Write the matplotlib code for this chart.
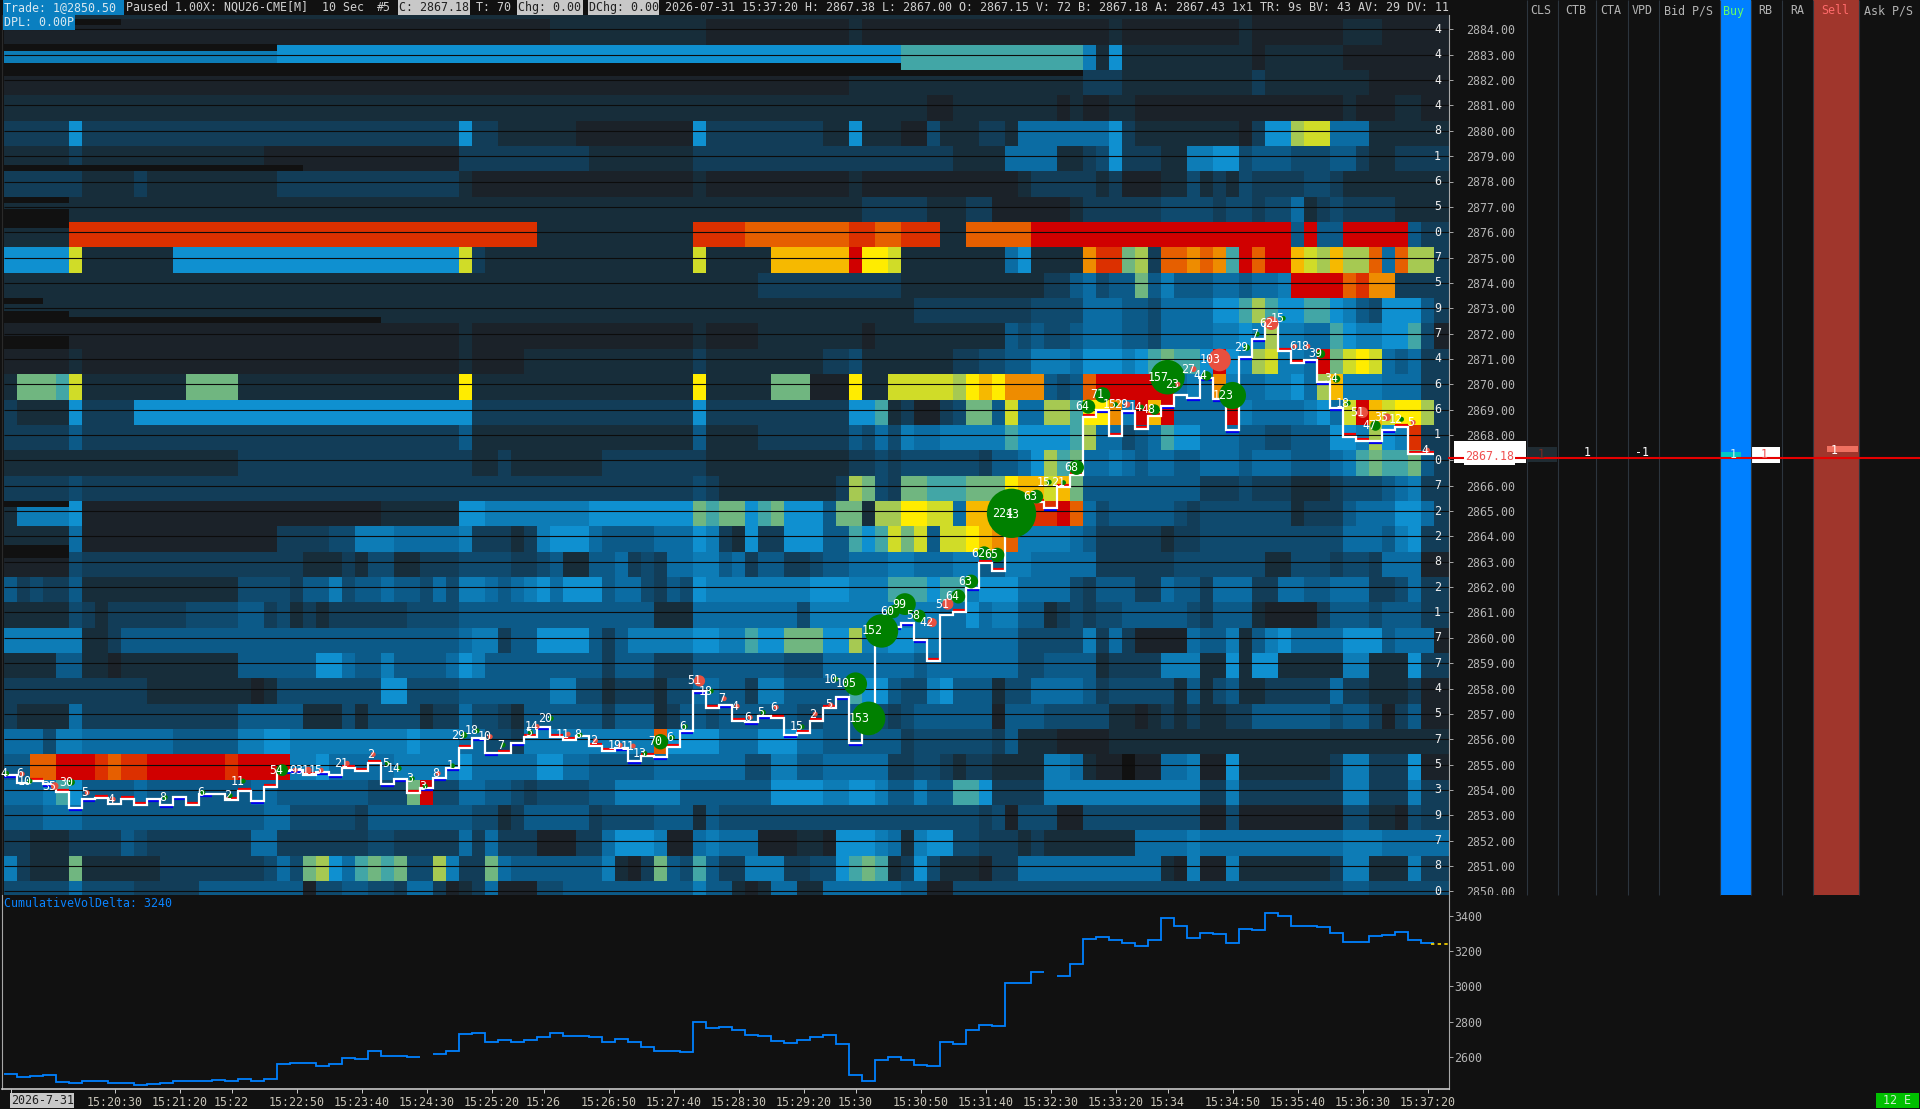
import numpy as np
import matplotlib
matplotlib.use("Agg")
import matplotlib.pyplot as plt
from matplotlib.colors import ListedColormap

plt.rcParams['font.family'] = ['DejaVu Sans Mono']
plt.rcParams['font.size'] = 8.4

BG = '#111111'

# heat levels, from empty up through blue and green to red
level_keys = '012345678abcdefghij'
level_colors = ['#111111', '#1b2229', '#172d3a', '#123d58', '#0f4a6e', '#0c5a88', '#0b6ca3', '#0d7cb6', '#0f90d0',
                '#42a6a6', '#70b680', '#a6c952', '#d0dc28', '#ffec00', '#f6b900', '#ee8c00', '#e65f00', '#dc3000', '#d00000']

# each row: "first column:level" runs
r2885 = "0:2 96:1"
r2884 = "0:1 42:2 54:1 65:2 66:1 85:2 86:1 95:2 96:1 103:2 106:1"
r2883 = "0:7 21:8 69:a 83:7 84:2 85:8 86:2 96:1 97:2 103:1"
r2882 = "0:1 65:2 83:3 86:2 96:3 97:2 105:1"
r2881 = "0:2 71:1 73:2 81:1 82:2 83:1 85:2 87:1 103:2 104:1 107:2 109:1"
r2880 = "0:3 5:8 6:3 35:8 36:3 38:2 44:1 53:8 54:3 63:2 65:8 66:2 69:1 71:4 72:2 75:3 77:2 78:6 85:8 86:3 87:2 95:1 96:3 97:8 99:c 100:d 102:6 105:2"
r2879 = "0:2 5:3 6:2 20:1 35:3 45:2 53:3 73:2 77:6 81:2 83:3 84:4 85:8 86:3 89:2 91:7 93:8 95:4 96:5 99:4 102:5 104:3 105:2 107:3"
r2878 = "0:3 6:2 10:3 11:2 21:3 35:2 36:1 53:2 54:1 65:2 66:1 78:2 79:3 84:2 85:3 86:1 89:2 91:4 92:2 93:3 94:2 95:4 96:3 100:4 102:3 103:2"
r2877 = "0:2 66:3 71:2 74:3 76:1 82:2 83:3 89:4 93:3 94:4 96:3 97:4 99:6 100:2 101:3 102:4 103:3 107:2"
r2876 = "0:2 5:i 41:2 53:i 57:h 65:i 67:h 69:i 72:2 74:h 79:j 99:5 100:j 101:5 103:j 108:5 109:3"
r2875 = "0:8 5:d 6:2 13:8 35:d 36:3 37:2 53:d 54:2 59:f 65:j 66:e 68:d 69:2 77:6 78:8 79:2 83:g 84:i 86:b 87:c 88:3 89:h 91:g 92:h 93:g 94:a 95:j 96:h 97:j 99:f 100:d 101:c 102:f 103:c 105:h 106:6 107:h 108:c 110:3"
r2874 = "0:2 58:3 69:2 80:3 82:5 83:6 84:4 85:5 87:b 88:5 89:7 90:5 93:6 95:5 96:6 98:7 99:j 103:h 104:i 105:g 107:3"
r2873 = "0:2 70:3 79:4 83:6 86:5 88:4 89:6 93:8 95:a 96:c 97:a 98:8 100:a 102:8 103:7 104:5 105:4 106:8 109:5 110:3"
r2872 = "0:1 35:2 36:1 53:2 54:1 58:2 66:1 67:2 77:5 78:4 79:5 80:4 82:5 83:6 86:5 88:4 89:6 93:7 95:8 96:7 97:c 98:7 100:6 102:a 103:8 104:7 106:8 108:a 109:4 110:1"
r2871 = "0:1 5:2 6:1 35:2 36:1 40:2 53:3 54:2 63:3 65:4 66:2 73:3 75:4 77:5 79:7 82:6 83:8 86:7 87:8 88:a 89:b 90:a 92:8 93:j 94:8 95:7 96:c 97:d 98:7 100:6 101:j 102:b 103:d 104:e 105:d 106:6 107:5 108:6 109:3"
r2870 = "0:2 1:b 4:a 5:d 6:2 14:b 18:2 35:e 36:2 53:e 54:2 59:b 62:1 65:e 66:2 68:d 73:c 74:e 75:f 76:e 77:g 80:5 81:4 82:5 83:h 84:j 90:6 91:7 92:6 93:g 94:7 95:6 97:7 99:8 100:6 101:c 102:f 103:7 106:6 109:3"
r2869 = "0:3 1:2 5:8 6:3 10:8 36:3 53:8 54:3 65:8 67:a 68:2 69:3 70:1 72:3 73:4 74:b 76:5 77:d 78:6 80:c 82:a 83:e 85:g 86:7 87:j 88:f 89:j 90:6 94:j 95:7 96:6 100:7 101:8 102:6 103:d 104:j 105:f 106:d 107:e 109:c 110:3"
r2868 = "0:3 5:5 6:3 35:5 36:2 53:5 54:2 58:3 65:5 66:4 67:6 68:4 69:7 70:6 72:7 77:a 78:8 82:a 83:c 84:6 86:4 87:5 88:6 89:a 90:8 92:6 95:5 97:4 99:5 102:8 104:7 105:c 106:8 107:7 108:i 109:3"
r2867 = "0:2 18:3 36:2 38:3 39:2 46:3 54:2 65:3 67:4 68:3 69:4 75:3 76:5 78:6 79:8 80:c 81:a 82:b 83:6 85:7 86:6 87:5 88:6 90:5 92:6 95:5 96:6 99:5 102:6 103:7 104:a 105:b 106:a 108:b 109:5 110:3"
r2866 = "0:3 5:4 6:3 53:4 54:3 55:2 64:3 65:c 66:b 67:4 68:3 69:b 71:a 74:b 77:e 78:f 80:d 81:f 82:b 83:5 92:3 95:4 96:3 99:2 102:3 103:4 106:5 107:6 108:7 109:3"
r2865 = "0:2 1:7 5:8 6:1 29:2 35:8 37:7 45:8 53:b 54:a 55:b 57:8 58:a 59:b 60:8 63:5 64:b 66:2 67:c 69:e 71:d 73:6 74:f 76:h 79:i 81:j 82:h 83:6 84:4 85:5 90:4 91:3 92:4 99:2 100:3 103:5 104:6 107:8 109:6 110:3"
r2864 = "0:2 5:6 6:1 21:3 25:4 27:7 30:6 35:7 36:3 39:2 40:3 41:7 42:8 45:6 46:5 50:6 53:8 54:7 55:3 56:2 57:8 58:3 60:8 63:5 65:a 66:8 67:a 68:d 69:b 70:d 71:5 72:d 74:e 75:f 76:g 77:h 78:7 82:6 83:5 84:3 89:2 90:3 92:4 103:6 106:5 107:7 108:8 109:3"
r2863 = "0:1 5:4 6:3 23:2 26:3 27:2 28:4 30:2 32:3 35:4 39:3 41:4 42:5 43:2 45:5 47:6 48:3 49:4 50:3 51:6 53:7 55:5 56:6 57:3 58:5 60:3 62:4 63:5 65:6 68:7 70:6 73:7 75:5 77:7 79:6 84:3 90:4 97:2 99:4 102:3 103:4 105:3 106:6 109:1"
r2862 = "0:5 1:3 2:4 3:3 5:5 6:2 18:4 22:3 23:5 25:7 26:4 27:5 29:6 30:5 32:4 33:6 34:4 35:7 37:6 38:5 39:6 40:7 41:8 42:6 43:8 46:5 47:6 49:4 50:3 51:5 52:4 53:8 54:7 62:8 65:7 68:a 71:8 72:a 74:7 75:8 78:6 82:4 83:3 84:5 87:3 89:6 90:5 92:3 93:6 96:3 98:6 100:5 102:6 105:3 107:4 108:6 109:3"
r2861 = "0:2 5:4 6:3 7:2 8:3 14:4 18:5 20:3 21:4 22:2 23:3 24:2 25:3 31:4 35:5 50:2 53:6 61:4 62:7 72:6 74:8 75:6 76:7 78:5 80:2 81:3 82:4 83:3 84:4 86:5 91:4 92:3 93:5 96:2 97:1 101:3 102:5 105:4 106:5 109:3"
r2860 = "0:7 6:2 8:3 9:5 35:6 36:7 38:3 39:5 41:8 45:5 46:3 47:5 48:7 53:8 55:7 57:a 58:8 60:b 63:8 65:c 66:7 68:8 70:7 72:6 78:4 83:7 84:3 85:6 86:3 87:1 91:6 92:5 94:7 95:2 96:5 97:7 98:8 99:6 103:8 106:5 107:6 110:1"
r2859 = "0:2 4:5 6:2 8:1 9:2 18:5 24:8 26:6 27:5 29:7 30:5 34:6 35:8 36:7 37:5 46:3 47:5 50:3 53:5 60:4 63:6 70:5 71:6 78:4 80:5 84:2 85:3 89:7 92:2 94:8 95:2 96:8 98:2 103:7 105:2 108:8 109:3"
r2858 = "0:3 11:2 19:1 20:2 21:4 29:8 31:4 35:5 42:7 44:4 46:2 47:3 50:2 51:4 53:6 55:5 57:3 58:7 60:5 65:a 66:8 68:5 69:4 71:7 72:8 73:5 76:2 77:4 79:6 83:5 84:3 85:4 90:2 91:5 92:2 93:4 94:5 95:2 97:3 102:6 103:3 105:2 108:3 109:1"
r2857 = "0:3 1:2 5:6 6:3 18:5 23:2 26:4 27:2 28:4 32:2 33:3 35:6 36:4 38:3 39:2 40:5 46:3 47:5 50:2 51:3 52:5 54:4 55:5 61:4 63:5 66:4 68:3 69:4 70:5 76:1 77:5 80:4 85:2 87:1 88:2 89:3 90:2 91:3 92:2 94:3 96:5 102:4 103:5 105:3 106:1 107:3 108:5 109:1"
r2856 = "0:6 3:4 4:7 6:6 13:5 18:7 20:8 22:7 31:8 32:7 35:6 37:4 39:3 40:7 50:h 51:8 55:6 58:8 61:6 63:5 69:3 70:4 76:3 77:5 78:2 81:1 85:2"
r2855 = "0:5 2:h 4:j 7:i 8:h 9:i 11:j 17:i 18:j 22:7 24:8 25:6 30:7 35:8 36:6 41:8 43:6 45:5 50:6 57:4 59:7 61:5 63:6 68:3 70:4 72:3 73:2 74:3 76:2 80:7 82:6 83:2 84:1 86:0 87:1 89:6 91:7 92:1 94:8 95:2 102:3 103:7 105:3 108:8 109:1"
r2854 = "0:6 3:7 4:a 5:8 6:5 10:6 11:5 19:6 21:5 28:4 31:b 32:j 33:4 35:6 37:5 39:4 40:3 41:4 45:5 47:7 52:5 59:8 63:7 65:8 67:7 68:5 70:7 71:5 73:a 75:8 76:3 80:7 92:3 94:7 95:3 103:7 105:3 108:7 109:3"
r2853 = "0:5 3:6 6:5 20:6 22:4 27:3 28:5 36:4 38:2 39:3 40:5 45:3 46:4 50:5 53:2 54:5 55:4 75:3 76:4 77:1 78:4 81:1 83:4 92:1 94:4 95:1 103:4 105:2 107:1 108:4 109:3"
r2852 = "0:3 2:2 5:3 9:5 10:4 11:3 19:6 21:3 28:4 30:3 35:6 36:3 37:6 38:3 41:1 44:3 46:6 47:8 50:7 51:1 53:6 54:7 55:6 58:1 61:2 63:1 64:8 67:7 68:6 69:2 70:7 71:8 73:4 75:3 78:2 79:3 80:2 87:6 91:7 92:6 103:7 106:6"
r2851 = "0:7 1:3 2:2 5:b 6:2 12:3 20:4 21:6 22:4 23:b 24:c 25:8 26:6 27:a 28:b 29:a 30:b 31:4 33:c 34:7 35:3 37:b 38:6 39:5 46:7 47:2 48:1 49:3 50:b 51:5 52:4 53:a 54:5 55:3 57:7 60:3 62:4 64:8 65:a 66:b 67:a 68:2 69:3 70:8 71:4 72:2 75:1 76:3 78:6 89:2 90:1 91:7 92:1 94:7 95:2 102:3 103:7 105:2 108:7 109:3"
r2850 = "0:4 5:6 6:4 10:3 15:5 23:1 24:4 26:5 28:4 30:3 31:6 33:3 34:1 35:2 36:3 37:6 38:1 41:4 43:5 53:7 54:5 56:2 57:1 58:2 59:6 61:2 63:6 69:5 71:1 73:4 103:5 105:4"

heat_rows = [r2850, r2851, r2852, r2853, r2854, r2855, r2856, r2857, r2858, r2859, r2860, r2861,
             r2862, r2863, r2864, r2865, r2866, r2867, r2868, r2869, r2870, r2871, r2872, r2873,
             r2874, r2875, r2876, r2877, r2878, r2879, r2880, r2881, r2882, r2883, r2884, r2885]

# no-data slivers: first col, last col, upper price, lower price
gap_spans = [(0, 9, 2884.41, 2884.17), (0, 21, 2883.42, 2883.15), (0, 69, 2882.67, 2882.16),
             (69, 83, 2882.40, 2882.16), (0, 23, 2878.65, 2878.41), (0, 5, 2877.39, 2877.15),
             (0, 5, 2876.90, 2876.17), (0, 3, 2873.40, 2873.17), (0, 5, 2872.89, 2872.41),
             (5, 29, 2872.65, 2872.41), (0, 5, 2871.90, 2871.39), (0, 5, 2865.40, 2865.16),
             (0, 5, 2863.66, 2863.15)]

# last digit printed on each price row, 2884 downwards
row_digits = "44448165075974661072282177457539780"

close_prices = [2854.59, 2854.27, 2854.35, 2854.23, 2853.93, 2853.27, 2853.63, 2853.68, 2853.44, 2853.63,
                2853.40, 2853.63, 2853.40, 2853.73, 2853.40, 2853.84, 2853.84, 2853.60, 2853.97, 2853.56,
                2854.13, 2854.76, 2854.78, 2854.59, 2854.72, 2854.59, 2854.88, 2854.74, 2855.05, 2854.22,
                2854.42, 2853.89, 2854.06, 2854.48, 2854.88, 2855.64, 2856.06, 2855.47, 2855.47, 2855.84,
                2856.07, 2856.49, 2856.10, 2855.97, 2856.13, 2855.74, 2855.55, 2855.64, 2855.14, 2855.33,
                2855.28, 2855.68, 2856.32, 2857.91, 2857.22, 2857.35, 2856.73, 2856.69, 2856.91, 2856.82,
                2856.16, 2856.26, 2856.73, 2857.22, 2857.65, 2855.84, 2856.27, 2859.94, 2860.44, 2860.60,
                2859.91, 2859.08, 2860.90, 2861.03, 2861.98, 2862.94, 2862.64, 2864.49, 2864.85, 2865.37,
                2865.11, 2865.93, 2866.43, 2868.70, 2868.99, 2867.97, 2868.93, 2868.24, 2868.75, 2869.15,
                2869.58, 2869.45, 2870.24, 2869.41, 2868.20, 2871.07, 2871.78, 2872.38, 2871.33, 2870.83,
                2870.96, 2870.11, 2869.06, 2867.94, 2867.78, 2867.78, 2868.18, 2868.31, 2867.26, 2867.26]

# which side the bar close tick sits on
close_sides = ("bnrbrbbrnr" "rbbbrbnrrb" "rbbrbbrrrb" "brbbbrbbrb" "rbrrnrrbbr"
               "brbbrbrbbr" "brrrbbrbbb" "brnrbrrrbr" "brrrbrbrrb" "nbbbbbbrrr" "bbbrrbbrrr")

# large trades, columns here counted from the left edge of column 0
bubble_cols = [77.5, 78.0, 89.5, 94.5, 93.5, 84.5, 83.4, 82.5, 75.4, 76.4, 74.4, 73.4, 69.3, 79.4, 80.4, 81.5,
               85.5, 86.4, 87.5, 88.5, 91.5, 90.3, 92.5, 95.6, 96.4, 97.5, 98.4, 99.3, 100.3, 101.3, 102.5, 103.4,
               104.5, 105.5, 106.4, 107.5, 108.4, 109.5, 67.5, 66.5, 65.5, 64.0, 68.4, 70.4, 71.4, 72.6, 56.4, 59.4,
               55.4, 57.4, 58.4, 61.4, 62.4, 63.6, 53.5, 54.4, 50.5, 52.4, 51.4, 49.3, 48.4, 47.4, 45.5, 42.1,
               41.0, 40.5, 43.4, 44.3, 35.4, 36.4, 37.4, 38.4, 28.4, 26.4, 29.5, 30.4, 31.4, 32.4, 33.4, 34.5,
               21.4, 22.4, 23.4, 24.4, 0.2, 1.4, 2.0, 3.9, 5.2, 6.4, 8.4, 12.4, 15.3, 17.4, 18.4]
bubble_prices = [2864.91, 2864.85, 2870.28, 2869.56, 2870.96, 2869.58, 2869.12, 2866.72, 2863.34, 2863.27, 2862.22,
                 2861.63, 2861.33, 2865.57, 2866.14, 2866.12, 2869.20, 2869.20, 2869.10, 2869.00, 2870.60, 2870.00,
                 2870.33, 2871.45, 2871.98, 2872.41, 2872.60, 2871.50, 2871.50, 2871.20, 2870.21, 2869.25, 2868.89,
                 2868.37, 2868.70, 2868.62, 2868.50, 2867.40, 2860.27, 2856.82, 2858.18, 2858.37, 2861.03, 2860.86,
                 2860.60, 2861.33, 2857.30, 2857.26, 2857.60, 2856.86, 2857.06, 2856.49, 2856.99, 2857.35, 2858.30,
                 2857.90, 2855.90, 2856.50, 2856.07, 2855.44, 2855.73, 2855.76, 2855.94, 2856.82, 2856.50, 2856.27,
                 2856.20, 2856.17, 2856.16, 2856.33, 2856.10, 2855.77, 2855.40, 2855.05, 2855.05, 2854.85, 2854.45,
                 2854.15, 2854.65, 2854.95, 2854.78, 2854.78, 2854.78, 2854.78, 2854.65, 2854.63, 2854.35, 2854.15,
                 2854.30, 2853.89, 2853.63, 2853.70, 2853.90, 2853.77, 2854.35]
bubble_vols = [224, 13, 157, 123, 103, 71, 64, 68, 62, 65, 63, 64, 99, 63, 15, 21,
               15, 29, 14, 48, 27, 23, 44, 29, 7, 62, 15, 6, 18, 39, 34, 18,
               51, 47, 35, 12, 5, 4, 152, 153, 105, 10, 60, 58, 42, 51, 4, 6,
               7, 6, 5, 15, 2, 5, 51, 18, 70, 6, 6, 13, 11, 19, 2, 20,
               14, 5, 11, 8, 29, 18, 10, 7, 2, 21, 5, 14, 3, 3, 8, 1,
               54, 9, 31, 15, 4, 6, 10, 35, 30, 5, 4, 8, 6, 2, 11]
# g buyer, s seller
bubble_sides = ("gggg" "sggggggggggg" "gsgg" "ssgg" "gsgss" "ggg" "sgsg" "ssggg" "gggss" "ssssg" "gs"
                "ssgggggsssgsgsgggsgssggggsg" "gsssgsgsgssgggg")

cvd_values = [2501, 2484, 2490, 2496, 2456, 2450, 2462, 2462, 2450, 2450, 2439, 2445, 2450, 2462, 2462, 2462,
              2467, 2462, 2473, 2462, 2473, 2558, 2564, 2564, 2547, 2558, 2592, 2586, 2632, 2603, 2603, 2598,
              np.nan, 2617, 2632, 2728, 2734, 2683, 2694, 2683, 2694, 2711, 2734, 2717, 2717, 2711, 2683, 2700,
              2683, 2655, 2632, 2632, 2626, 2796, 2762, 2768, 2751, 2723, 2717, 2689, 2677, 2694, 2711, 2723,
              2672, 2496, 2462, 2581, 2598, 2581, 2552, 2547, 2683, 2672, 2751, 2779, 2774, 3022, 3018, 3080,
              np.nan, 3058, 3126, 3268, 3279, 3262, 3245, 3228, 3262, 3387, 3341, 3273, 3302, 3296, 3245, 3324,
              3319, 3415, 3400, 3341, 3341, 3336, 3302, 3250, 3250, 3285, 3290, 3307, 3262, 3245]
cvd_last = 3240
cvd_ticks = [2600, 2800, 3000, 3200, 3400]

time_cols = [8, 13, 17, 22, 27, 32, 37, 41, 46, 51, 56, 61, 65, 70, 75, 80, 85, 89, 94, 99, 104, 109]
time_labels = ['15:20:30', '15:21:20', '15:22', '15:22:50', '15:23:40', '15:24:30', '15:25:20', '15:26',
               '15:26:50', '15:27:40', '15:28:30', '15:29:20', '15:30', '15:30:50', '15:31:40', '15:32:30',
               '15:33:20', '15:34', '15:34:50', '15:35:40', '15:36:30', '15:37:20']

panel_names = ['CLS', 'CTB', 'CTA', 'VPD', 'Bid P/S', 'Buy', 'RB', 'RA', 'Sell', 'Ask P/S']
header_right = "2026-07-31 15:37:20 H: 2867.38 L: 2867.00 O: 2867.15 V: 72 B: 2867.18 A: 2867.43 1x1 TR: 9s BV: 43 AV: 29 DV: 11"

W, H = 1920, 1109
fig = plt.figure(figsize=(W / 100, H / 100), dpi=100, facecolor=BG)


def box(l, t, r, b):
    return [l / W, 1 - b / H, (r - l) / W, (b - t) / H]


x_span = ((2 - 4) / 13 - 0.5, (1449 - 4) / 13 - 0.5)

# price pane
ax = fig.add_axes(box(2, 15, 1449, 895), facecolor=BG)
ax.set_xlim(*x_span)
ax.set_ylim(2884 - (895 - 29.4) / 25.35, 2884 + (29.4 - 15) / 25.35)

n_cols = 112
grid = np.zeros((len(heat_rows), n_cols))
for i, row in enumerate(heat_rows):
    for part in row.split():
        start, key = part.split(':')
        grid[i, int(start):] = level_keys.index(key)

price_edges = np.arange(2850, 2887) - 0.6
col_edges = np.arange(n_cols + 1) - 0.5
ax.pcolormesh(col_edges, price_edges, grid, cmap=ListedColormap(level_colors),
              vmin=-0.5, vmax=len(level_colors) - 0.5, antialiased=False, zorder=1)

for c0, c1, hi, lo in gap_spans:
    ax.bar(c0 - 0.5, hi - lo, width=c1 - c0, bottom=lo, align='edge', color=BG, linewidth=0, zorder=1.5)

prices = np.arange(2884, 2849, -1)
ax.hlines(prices, -0.5, x_span[1], color='#0c0c0c', linewidth=0.8, zorder=2)

ax.yaxis.tick_right()
ax.set_yticks(prices)
ax.set_yticklabels(['%.2f' % p for p in prices])
ax.tick_params(axis='y', length=3, width=0.7, color='#aaaaaa', labelcolor='#b4b4b4', pad=9.5, labelsize=8.4)
ax.set_xticks([])
for s in ['top', 'bottom']:
    ax.spines[s].set_visible(False)
ax.spines['left'].set_color('#2a2a2a')
ax.spines['right'].set_color('#a8a8a8')

for p, d in zip(prices, row_digits):
    ax.text(109.78, p, d, color='#f0f0f0', ha='center', va='center', zorder=6)

# close steps with their buy and sell ticks
cols = np.arange(len(close_prices))
closes = np.array(close_prices)
sides = np.array(list(close_sides[:len(cols)]))
up = sides == 'r'
dn = sides == 'b'
ax.hlines(closes[up] + 0.08, cols[up] - 0.5, cols[up] + 0.5, color='#ee0000', linewidth=1.6, zorder=3)
ax.hlines(closes[dn] - 0.08, cols[dn] - 0.5, cols[dn] + 0.5, color='#0000ee', linewidth=1.6, zorder=3)
ax.stairs(closes, np.arange(len(cols) + 1) - 0.5, baseline=None, color='white', linewidth=1.6, zorder=3.2)

vols = np.array(bubble_vols, dtype=float)
radii = np.maximum(2.5, vols * 0.11)
side_arr = np.array(list(bubble_sides[:len(vols)]))
bub_colors = np.where(side_arr == 's', '#e8503f', '#008000')
bub_x = np.array(bubble_cols) - 0.5
ax.scatter(bub_x, bubble_prices, s=(2 * radii * 0.72) ** 2, c=bub_colors, linewidths=0, zorder=4)
for c, p, v in zip(bub_x, bubble_prices, bubble_vols):
    ax.text(c + 0.1, p, str(v), color='white', ha='right', va='center', zorder=5)

# cumulative delta pane
ax2 = fig.add_axes(box(2, 895, 1449, 1089), facecolor=BG)
ax2.set_xlim(*x_span)
ax2.set_ylim(2418, 3519)
ax2.stairs(cvd_values, np.arange(len(cvd_values) + 1) - 0.5, baseline=None, color='#0080ff', linewidth=1.3)
ax2.hlines(cvd_last, 109.3, x_span[1], color='#ffd800', linewidth=1.2, linestyle=(0, (2, 2)))
ax2.yaxis.tick_right()
ax2.set_yticks(cvd_ticks)
ax2.tick_params(axis='y', length=3, width=0.7, color='#aaaaaa', labelcolor='#b4b4b4', pad=1)
ax2.set_xticks([0] + time_cols)
ax2.set_xticklabels([''] + time_labels)
ax2.tick_params(axis='x', length=3, width=0.7, color='#cccccc', labelcolor='#c8c4b8', pad=2)
ax2.spines['top'].set_visible(False)
ax2.spines['left'].set_color('#a8a8a8')
ax2.spines['right'].set_color('#a8a8a8')
ax2.spines['bottom'].set_color('#c8c8c8')
ax2.spines['bottom'].set_linewidth(1.2)
ax2.text(0.0015, 0.957, 'CumulativeVolDelta: 3240', color='#0a84ff', transform=ax2.transAxes, va='center')

# screen furniture above both panes, in pixels
ov = fig.add_axes([0, 0, 1, 1], facecolor='none', zorder=10)
ov.set_xlim(0, W)
ov.set_ylim(H, 0)
ov.axis('off')


def strip(l, t, r, b, color):
    ov.fill_between([l, r], t, b, color=color, linewidth=0)


def label(x, y, s, color='#c8c8c8', ha='left'):
    ov.text(x, y, s, color=color, ha=ha, va='center', fontsize=8.4)


strip(0, 0, 1449, 15, BG)
strip(3, 0, 124, 15, '#0a7fc0')
strip(398, 0, 470, 15, '#c8c8c8')
strip(517, 0, 583, 15, '#c8c8c8')
strip(588, 0, 659, 15, '#c8c8c8')
strip(3, 15, 75, 30, '#0a7fc0')
label(4, 7.5, 'Trade: 1@2850.50', '#d8e8f0')
label(126, 7.5, 'Paused 1.00X: NQU26-CME[M]', '#d0d0d0')
label(322, 7.5, '10 Sec', '#d0d0d0')
label(377, 7.5, '#5', '#d0d0d0')
label(399, 7.5, 'C: 2867.18', '#202020')
label(476, 7.5, 'T: 70', '#d0d0d0')
label(518, 7.5, 'Chg: 0.00', '#202020')
label(589, 7.5, 'DChg: 0.00', '#202020')
label(665, 7.5, header_right, '#d0d0d0')
label(4, 22.5, 'DPL: 0.00P', '#d8e8f0')

# the last price label is cut at the foot of the pane
strip(1452, 895, 1526, 904, BG)

strip(1720, 0, 1750.5, 895, '#0080ff')
strip(1813, 0, 1859, 895, '#a0362c')
panel_edges = [1526.5, 1557.5, 1596, 1627.5, 1658.5, 1720, 1750.5, 1781.5, 1813, 1859]
ov.vlines(panel_edges, 0, 895, color='#2c353e', linewidth=0.8)
panel_x = [1541, 1576, 1611, 1642, 1688, 1734, 1765, 1797, 1835, 1888]
panel_text = ['#b4b4b4'] * 5 + ['#66ff66'] + ['#b4b4b4'] * 2 + ['#ff6a6a', '#b4b4b4']
for x, s, c in zip(panel_x, panel_names, panel_text):
    label(x, 11, s, c, ha='center')

# current price row, line first so the cells sit on it
strip(1454, 441, 1526, 463, 'white')
strip(1720, 452, 1741, 457, '#00c8c8')
strip(1827, 446, 1858, 452, '#f07060')
ov.hlines(457.7, 1448, W, color='#e60000', linewidth=1.5)
strip(1527, 447, 1557, 462, '#202c33')
strip(1751, 447, 1780, 463, 'white')
ov.text(1465, 457, '2867.18', color='#f05050', ha='left', va='center', bbox=dict(facecolor='white', edgecolor='none', pad=0.8))
label(1541, 455, '1', '#7a2a22', ha='center')
label(1587, 453, '1', 'white', ha='center')
label(1642, 453, '-1', 'white', ha='center')
label(1733, 455, '1', '#d8f0f0', ha='center')
label(1764, 455, '1', '#f05050', ha='center')
label(1834, 450, '1', 'white', ha='center')

strip(10, 1093, 74, 1108, '#c8c8c8')
label(11, 1100.5, '2026-7-31', '#202020')
strip(1876, 1093, 1919, 1108, '#00c000')
label(1897, 1100.5, '12 E', '#d0f0d0', ha='center')

fig.savefig('out.png', dpi=100, facecolor=BG)
